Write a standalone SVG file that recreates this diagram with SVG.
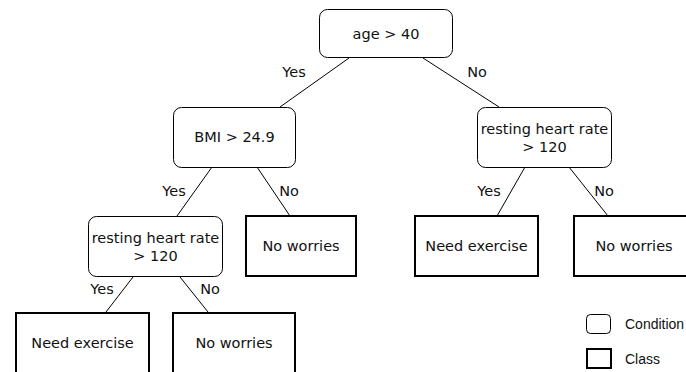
<svg xmlns="http://www.w3.org/2000/svg" width="686" height="372" viewBox="0 0 686 372">
<style>
.cond{fill:#fff;stroke:#000;stroke-width:1}
.cls{fill:#fff;stroke:#000;stroke-width:2}
.t{font-family:"DejaVu Sans",Verdana,sans-serif;font-size:14.5px;fill:#111;text-anchor:middle}
.lbl{font-family:"DejaVu Sans",Verdana,sans-serif;font-size:14.5px;fill:#111;text-anchor:middle}
.leg{font-family:"Liberation Sans",Arial,sans-serif;font-size:14px;fill:#111}
.e{stroke:#000;stroke-width:1;fill:none}
</style>
<rect width="686" height="372" fill="#fff"/>
<g id="connectors">
<line class="e" x1="349" y1="58" x2="280" y2="107"/>
<line class="e" x1="423" y1="58" x2="499" y2="107"/>
<line class="e" x1="212" y1="167" x2="177" y2="216"/>
<line class="e" x1="257" y1="167" x2="290" y2="216"/>
<line class="e" x1="525" y1="167" x2="497" y2="216"/>
<line class="e" x1="569" y1="167" x2="608" y2="216"/>
<line class="e" x1="133" y1="277" x2="106" y2="312"/>
<line class="e" x1="180" y1="277" x2="208" y2="312"/>
<text class="lbl" x="294" y="77">Yes</text>
<text class="lbl" x="477" y="77">No</text>
<text class="lbl" x="174" y="196">Yes</text>
<text class="lbl" x="289" y="196">No</text>
<text class="lbl" x="489" y="196">Yes</text>
<text class="lbl" x="604" y="196">No</text>
<text class="lbl" x="102" y="294">Yes</text>
<text class="lbl" x="210" y="294">No</text>
</g>
<g id="n-root">
<rect class="cond" x="319.5" y="9.5" width="133" height="48" rx="8"/>
<text class="t" x="386" y="39">age &gt; 40</text>
</g>
<g id="n-bmi">
<rect class="cond" x="173.5" y="107.5" width="122" height="60" rx="8"/>
<text class="t" x="234.5" y="142">BMI &gt; 24.9</text>
</g>
<g id="n-rhr-right">
<rect class="cond" x="477.5" y="107.5" width="134" height="60" rx="8"/>
<text class="t" x="544.5" y="134">resting heart rate</text>
<text class="t" x="544.5" y="152">&gt; 120</text>
</g>
<g id="n-rhr-left">
<rect class="cond" x="88.5" y="216.5" width="134" height="60" rx="8"/>
<text class="t" x="155.5" y="243">resting heart rate</text>
<text class="t" x="155.5" y="261">&gt; 120</text>
</g>
<g id="n-noworries-mid">
<rect class="cls" x="246" y="216" width="110" height="60"/>
<text class="t" x="301" y="251">No worries</text>
</g>
<g id="n-needex-right">
<rect class="cls" x="415" y="216" width="123" height="60"/>
<text class="t" x="476.5" y="251">Need exercise</text>
</g>
<g id="n-noworries-right">
<rect class="cls" x="574" y="216" width="130" height="60"/>
<text class="t" x="634" y="251">No worries</text>
</g>
<g id="n-needex-left">
<rect class="cls" x="16" y="313" width="133" height="70"/>
<text class="t" x="82.5" y="348">Need exercise</text>
</g>
<g id="n-noworries-left">
<rect class="cls" x="173" y="313" width="122" height="70"/>
<text class="t" x="234" y="348">No worries</text>
</g>
<g id="legend">
<rect class="cond" x="586.5" y="314.5" width="24" height="19" rx="4"/>
<text class="leg" x="625" y="329">Condition</text>
<rect class="cls" x="587" y="349" width="24" height="19"/>
<text class="leg" x="625" y="364">Class</text>
</g>
</svg>
